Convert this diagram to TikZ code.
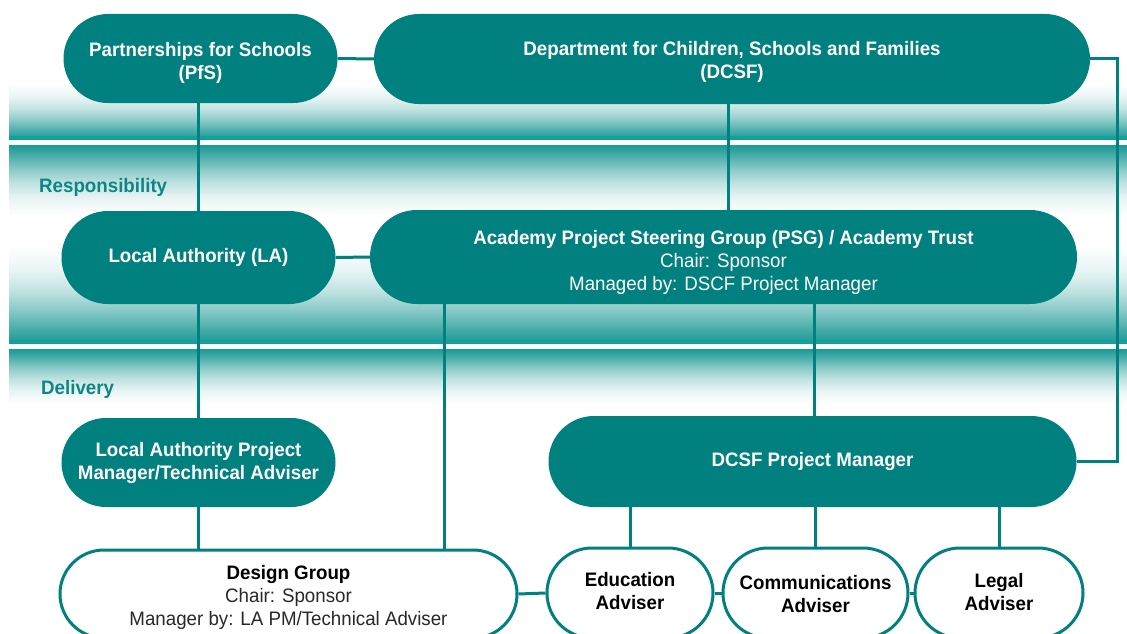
\documentclass[tikz,border=0pt]{standalone}
\usepackage{fontspec}
\setmainfont{Liberation Sans}[FakeStretch=0.96]
\usetikzlibrary{shapes.misc}
\definecolor{tealnode}{RGB}{0,128,126}
\definecolor{tealband}{RGB}{26,152,148}
\definecolor{tealedge}{RGB}{16,162,156}
\definecolor{tealtext}{RGB}{14,134,132}
\definecolor{darkgrey}{RGB}{40,40,40}
\colorlet{bandA}{tealband!78!white}
\colorlet{bandB}{tealband!52!white}
\colorlet{bandC}{tealband!28!white}
\colorlet{bandD}{tealband!10!white}
% white at top, teal at bottom (ease-in)
\pgfdeclareverticalshading{fadedown}{100bp}{color(0bp)=(tealband); color(25bp)=(tealband);
  color(33bp)=(bandA); color(42bp)=(bandB); color(52bp)=(bandC); color(63bp)=(bandD);
  color(75bp)=(white); color(100bp)=(white)}
% teal at top, white at bottom (ease-out)
\pgfdeclareverticalshading{fadeup}{100bp}{color(0bp)=(white); color(25bp)=(white);
  color(37bp)=(bandD); color(48bp)=(bandC); color(58bp)=(bandB); color(67bp)=(bandA);
  color(75bp)=(tealband); color(100bp)=(tealband)}
\newcommand{\dgfont}{\fontsize{19.5}{23}\selectfont}
\newcommand{\stk}[2]{\raisebox{-#1}[\height][\depth]{\begin{tabular}{@{}c@{}}#2\end{tabular}}}
\begin{document}
\begin{tikzpicture}[x=1pt,y=-1pt,
  pill/.style={rounded rectangle, fill=tealnode, text=white, inner sep=0pt,
    font=\dgfont\bfseries},
  wpill/.style={rounded rectangle, draw=tealnode, line width=3pt, fill=white,
    text=black, inner sep=0pt, font=\dgfont\bfseries},
  conn/.style={draw=tealnode, line width=3pt},
  bandlabel/.style={text=tealtext, font=\dgfont\bfseries, anchor=west, inner sep=0pt}
]
\useasboundingbox (0,0) rectangle (1127,634);
\clip (0,0) rectangle (1127,634);
\fill[white] (0,0) rectangle (1127,634);
% background bands
\shade[shading=fadedown] (9,84) rectangle (1127,139);
\fill[tealedge] (9,136) rectangle (1127,139);
\shade[shading=fadeup] (9,145) rectangle (1127,215);
\shade[shading=fadedown] (9,247) rectangle (1127,343);
\fill[tealedge] (9,145) rectangle (1127,147);
\fill[tealedge] (9,340) rectangle (1127,343);
\shade[shading=fadeup] (9,349) rectangle (1127,404);
\fill[tealedge] (9,349) rectangle (1127,351);

% labels
\node[bandlabel] (resp) at (39,187.5) {Responsibility};
\node[bandlabel] (deliv) at (41,389.5) {Delivery};

% nodes
\node[pill, minimum width=274pt, minimum height=89pt] (pfs) at (200.5,58.5)
  {\stk{4.4pt}{Partnerships for Schools\\(PfS)}};
\node[pill, minimum width=716pt, minimum height=90pt] (dcsf) at (732,59)
  {\stk{3pt}{Department for Children, Schools and Families\\(DCSF)}};
\node[pill, minimum width=274pt, minimum height=93pt] (la) at (198.5,257.5)
  {Local Authority (LA)};
\node[pill, minimum width=707pt, minimum height=94pt, font=\dgfont] (psg) at (723.5,257)
  {\stk{5.4pt}{\textbf{Academy Project Steering Group (PSG) / Academy Trust}\\Chair: Sponsor\\Managed by: DSCF Project Manager}};
\node[pill, minimum width=274pt, minimum height=89pt] (lapm) at (198.5,462.5)
  {\stk{1pt}{Local Authority Project\\Manager/Technical Adviser}};
\node[pill, minimum width=528pt, minimum height=91pt] (dpm) at (812.5,461.5)
  {DCSF Project Manager};
\node[wpill, minimum width=457pt, minimum height=88pt, font=\dgfont] (design) at (288.5,594)
  {\stk{3.4pt}{\textbf{Design Group}\\\textcolor{darkgrey}{Chair: Sponsor}\\\textcolor{darkgrey}{Manager by: LA PM/Technical Adviser}}};
\node[wpill, minimum width=166pt, minimum height=90pt] (edu) at (630,593)
  {\stk{0.4pt}{Education\\Adviser}};
\node[wpill, minimum width=185pt, minimum height=90pt] (comm) at (815.5,593)
  {\stk{3.4pt}{Communications\\Adviser}};
\node[wpill, minimum width=168pt, minimum height=90pt] (legal) at (999,593)
  {\stk{1.4pt}{Legal\\Adviser}};

% connectors
\coordinate (rc) at (1117,59);
\draw[conn] (pfs.east) -- (dcsf.west);
\draw[conn] (la.north |- pfs.south) -- (la.north);
\draw[conn] ([xshift=-4pt]dcsf.south) -- ([xshift=4.5pt]psg.north);
\draw[conn] (la.east) -- (psg.west);
\draw[conn] (la.south) -- (lapm.north);
\draw[conn] (lapm.south) -- (lapm.south |- design.north);
\draw[conn] ([xshift=-279.5pt]psg.south) -- ([xshift=155.5pt]design.north);
\draw[conn] ([xshift=91pt]psg.south) -- ([xshift=2pt]dpm.north);
\draw[conn] (edu.north |- dpm.south) -- (edu.north);
\draw[conn] (comm.north |- dpm.south) -- (comm.north);
\draw[conn] (legal.north |- dpm.south) -- (legal.north);
\draw[conn] (design.east) -- (edu.west);
\draw[conn] (edu.east) -- (comm.west);
\draw[conn] (comm.east) -- (legal.west);
\draw[conn] (dcsf.east) -- (rc) |- (dpm.east);
\end{tikzpicture}
\end{document}
